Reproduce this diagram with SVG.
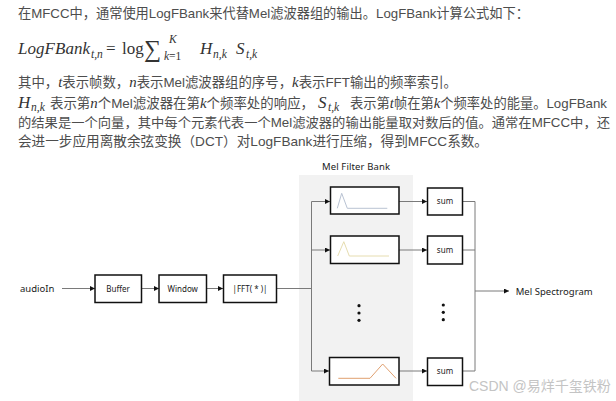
<svg xmlns="http://www.w3.org/2000/svg" width="616" height="401" viewBox="0 0 616 401">
<defs>
<style>
.t{font-family:"Liberation Sans","Noto Sans CJK SC",sans-serif;font-size:13.5px;fill:#4d4d4d}
.m{font-family:"Liberation Serif","DejaVu Serif",serif;font-style:italic;fill:#333}
.mu{font-family:"Liberation Serif","DejaVu Serif",serif;fill:#333}
.d{font-family:"Noto Sans","Open Sans",sans-serif;fill:#1a1a1a}
.wm{font-family:"Liberation Sans","Noto Sans CJK SC",sans-serif;font-size:14px;fill:#c4c4c4}
.box{fill:#fff;stroke:#111;stroke-width:1.5}
.ln{fill:none;stroke:#7a7a7a;stroke-width:1}
.dot{fill:#111}
</style>
<marker id="ah" markerUnits="userSpaceOnUse" markerWidth="6" markerHeight="6" refX="5" refY="2.5" orient="auto">
<path d="M0,0 L5,2.5 L0,5 z" fill="#111"/>
</marker>
</defs>
<rect width="616" height="401" fill="#fff"/>

<g id="text-block">
<text class="t" x="18" y="18" textLength="511" lengthAdjust="spacingAndGlyphs">在MFCC中，通常使用LogFBank来代替Mel滤波器组的输出。LogFBank计算公式如下：</text>
<g id="formula">
<text class="m" x="18" y="54" font-size="17" textLength="72">LogFBank</text>
<text class="m" x="91" y="57.5" font-size="11.5">t,n</text>
<text class="mu" x="106" y="54" font-size="17">=</text>
<text class="mu" x="122" y="54" font-size="17">log</text>
<text class="mu" x="144" y="56.5" font-size="24">∑</text>
<text class="m" x="169" y="43" font-size="11.5">K</text>
<text class="m" x="164" y="60" font-size="11.5">k<tspan class="mu" font-style="normal">=1</tspan></text>
<text class="m" x="200" y="54" font-size="17">H</text>
<text class="m" x="213" y="57.5" font-size="11.5">n,k</text>
<text class="m" x="236" y="54" font-size="17">S</text>
<text class="m" x="246" y="57.5" font-size="11.5">t,k</text>
</g>
<text class="t" x="18" y="87" textLength="439" lengthAdjust="spacingAndGlyphs">其中，<tspan class="m" font-size="15">t</tspan>表示帧数，<tspan class="m" font-size="15">n</tspan>表示Mel滤波器组的序号，<tspan class="m" font-size="15">k</tspan>表示FFT输出的频率索引。</text>
<text class="m" x="18" y="108" font-size="17">H</text>
<text class="m" x="31" y="111" font-size="11.5">n,k</text>
<text class="t" x="50" y="108" textLength="264" lengthAdjust="spacingAndGlyphs">表示第<tspan class="m" font-size="15">n</tspan>个Mel滤波器在第<tspan class="m" font-size="15">k</tspan>个频率处的响应，</text>
<text class="m" x="318" y="108" font-size="17">S</text>
<text class="m" x="328" y="111" font-size="11.5">t,k</text>
<text class="t" x="350" y="108" textLength="257" lengthAdjust="spacingAndGlyphs">表示第<tspan class="m" font-size="15">t</tspan>帧在第<tspan class="m" font-size="15">k</tspan>个频率处的能量。LogFBank</text>
<text class="t" x="18" y="127" font-size="13" style="font-size:13px" textLength="592" lengthAdjust="spacingAndGlyphs">的结果是一个向量，其中每个元素代表一个Mel滤波器的输出能量取对数后的值。通常在MFCC中，还</text>
<text class="t" x="18" y="146" textLength="470" lengthAdjust="spacingAndGlyphs">会进一步应用离散余弦变换（DCT）对LogFBank进行压缩，得到MFCC系数。</text>
</g>

<g id="filterbank-panel">
<rect x="299" y="175" width="114" height="226" fill="#f2f2f2"/>
<text class="d" x="356" y="170" font-size="9.5" text-anchor="middle" textLength="68">Mel Filter Bank</text>
</g>

<g id="connectors">
<line class="ln" x1="62" y1="288.5" x2="95" y2="288.5" marker-end="url(#ah)"/>
<line class="ln" x1="141.5" y1="288.5" x2="159" y2="288.5" marker-end="url(#ah)"/>
<line class="ln" x1="206.5" y1="288.5" x2="223" y2="288.5" marker-end="url(#ah)"/>
<polyline class="ln" points="276.5,288.5 311.5,288.5"/>
<line class="ln" x1="311.5" y1="201.5" x2="311.5" y2="371"/>
<line class="ln" x1="311.5" y1="201.5" x2="330" y2="201.5" marker-end="url(#ah)"/>
<line class="ln" x1="311.5" y1="250" x2="330" y2="250" marker-end="url(#ah)"/>
<line class="ln" x1="311.5" y1="371" x2="329" y2="371" marker-end="url(#ah)"/>
<line class="ln" x1="399" y1="201.5" x2="427" y2="201.5" marker-end="url(#ah)"/>
<line class="ln" x1="399" y1="250" x2="427" y2="250" marker-end="url(#ah)"/>
<line class="ln" x1="399" y1="371" x2="427" y2="371" marker-end="url(#ah)"/>
<line class="ln" x1="462.5" y1="201.5" x2="475" y2="201.5"/>
<line class="ln" x1="462.5" y1="250" x2="475" y2="250"/>
<line class="ln" x1="462.5" y1="371" x2="475" y2="371"/>
<line class="ln" x1="475" y1="201.5" x2="475" y2="371"/>
<line class="ln" x1="475" y1="291" x2="509" y2="291" marker-end="url(#ah)"/>
</g>

<g id="audioIn">
<text class="d" x="20" y="292" font-size="9.5">audioIn</text>
</g>
<g id="buffer">
<rect class="box" x="95" y="275" width="46.5" height="27.5"/>
<text class="d" x="118" y="291.5" font-size="8" text-anchor="middle">Buffer</text>
</g>
<g id="window">
<rect class="box" x="159" y="275" width="47.5" height="27.5"/>
<text class="d" x="182.7" y="291.5" font-size="8" text-anchor="middle">Window</text>
</g>
<g id="fft">
<rect class="box" x="223.5" y="275" width="53" height="27.5"/>
<text class="d" x="250" y="291.5" font-size="8" text-anchor="middle">|FFT( * )|</text>
</g>

<g id="filter1">
<rect class="box" x="330.5" y="187" width="68.5" height="27"/>
<polyline points="337.3,208.3 341.7,193.3 347.3,208.3 387.3,208.3" fill="none" stroke="#b9c3d3" stroke-width="1"/>
</g>
<g id="filter2">
<rect class="box" x="330.5" y="236" width="68.5" height="27.5"/>
<polyline points="337.7,256 343.8,241.7 349.3,256 389,256" fill="none" stroke="#e6ddb0" stroke-width="1"/>
</g>
<g id="filter-dots">
<circle class="dot" cx="359" cy="305.7" r="1.6"/>
<circle class="dot" cx="359" cy="313" r="1.6"/>
<circle class="dot" cx="359" cy="320.3" r="1.6"/>
</g>
<g id="filter3">
<rect class="box" x="329.5" y="357.5" width="69.5" height="27.5"/>
<polyline points="338.3,378.3 370,378.3 382.7,364 396,378.3" fill="none" stroke="#e0a070" stroke-width="1"/>
</g>

<g id="sum1">
<rect class="box" x="427.5" y="188" width="35" height="27"/>
<text class="d" x="445" y="203.8" font-size="8" text-anchor="middle">sum</text>
</g>
<g id="sum2">
<rect class="box" x="427.5" y="236" width="35" height="28"/>
<text class="d" x="445" y="252.5" font-size="8" text-anchor="middle">sum</text>
</g>
<g id="sum-dots">
<circle class="dot" cx="443.3" cy="305" r="1.6"/>
<circle class="dot" cx="443.3" cy="312.3" r="1.6"/>
<circle class="dot" cx="443.3" cy="319.7" r="1.6"/>
</g>
<g id="sum3">
<rect class="box" x="427.5" y="358" width="35" height="27.5"/>
<text class="d" x="445" y="374" font-size="8" text-anchor="middle">sum</text>
</g>

<g id="mel-spectrogram">
<text class="d" x="515.7" y="294.5" font-size="9.5" textLength="77">Mel Spectrogram</text>
</g>

<text class="wm" x="469" y="391">CSDN @易烊千玺铁粉</text>
</svg>
